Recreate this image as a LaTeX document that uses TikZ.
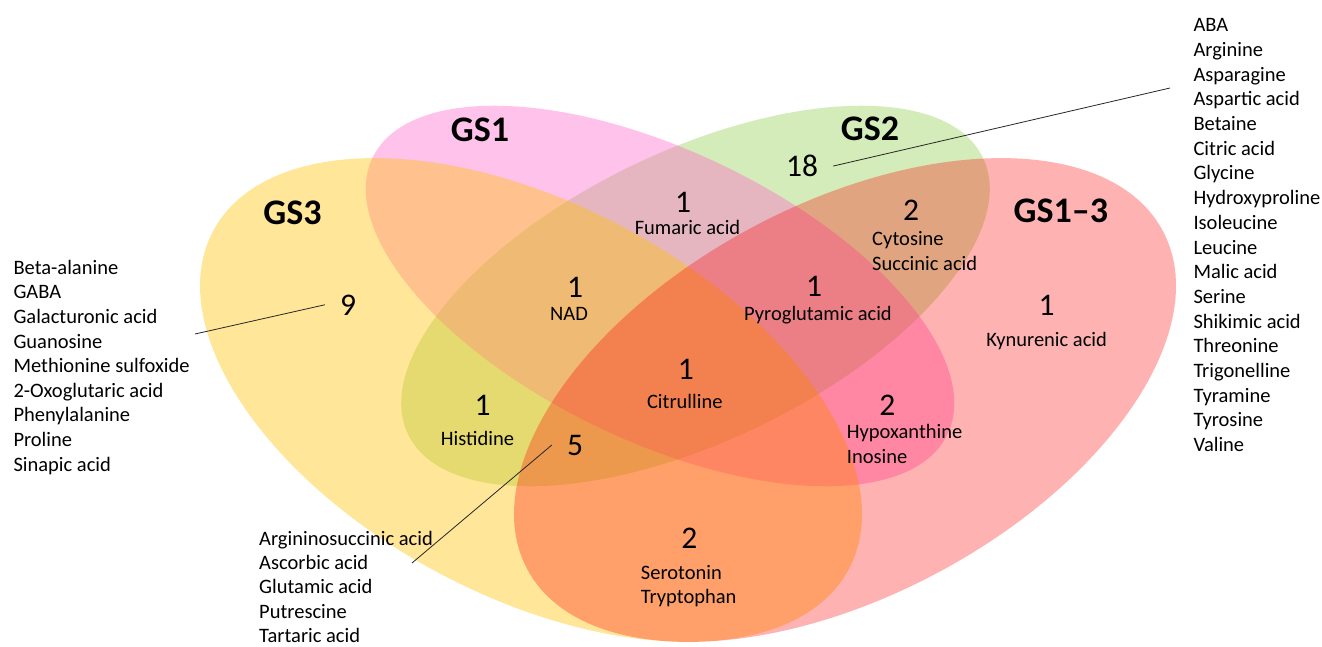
\documentclass[tikz,border=0pt]{standalone}
\usepackage{fontspec}
\setmainfont{Carlito}
\definecolor{cGSone}{RGB}{255,102,204}
\definecolor{cGStwo}{RGB}{146,208,80}
\definecolor{cGSthree}{RGB}{255,192,0}
\definecolor{cGSall}{RGB}{255,0,0}
\begin{document}
\begin{tikzpicture}[x=1pt,y=1pt,
  lst/.style={anchor=base west, inner sep=0pt, font=\fontsize{20.5}{24.7}\selectfont},
  lbl/.style={anchor=base, inner sep=0pt, font=\fontsize{20.5}{24.7}\selectfont},
  lbll/.style={anchor=base west, inner sep=0pt, font=\fontsize{20.5}{24.7}\selectfont},
  num/.style={anchor=base, inner xsep=15pt, inner ysep=0pt, font=\fontsize{31.5}{36}\selectfont},
  settitle/.style={anchor=base, inner sep=0pt, font=\fontsize{36}{40}\selectfont\bfseries},
  lead/.style={draw=black!85, line width=0.8pt}]
\useasboundingbox (0,0) rectangle (1322,-646);

% sets (drawn in this order for the overlap colours)
\fill[cGStwo, fill opacity=0.4, rotate around={25.7:(695.5,-296)}] (695.5,-296) ellipse [x radius=319pt, y radius=145pt];
\fill[cGSone, fill opacity=0.4, rotate around={-25.7:(660,-296)}] (660,-296) ellipse [x radius=319pt, y radius=145pt];
\fill[cGSthree, fill opacity=0.4, rotate around={-28:(531,-400)}] (531,-400) ellipse [x radius=360pt, y radius=196pt];
\fill[cGSall, fill opacity=0.3, rotate around={28:(845,-400)}] (845,-400) ellipse [x radius=360pt, y radius=196pt];

% set titles
\node[settitle] (tGS1) at (480,-141.7) {GS1};
\node[settitle] (tGS2) at (870,-140.7) {GS2};
\node[settitle] (tGS3) at (292.5,-224) {GS3};
\node[settitle] (tGSall) at (1060.8,-222.7) {GS1–3};

% counts
\node[num] (n18) at (802,-176.7) {18};
\node[num] (nFum) at (683,-212.7) {1};
\node[num] (nCyt) at (911,-220.7) {2};
\node[num] (nPyr) at (814,-296.7) {1};
\node[num] (nKyn) at (1046.7,-315) {1};
\node[num] (nNAD) at (575,-297.3) {1};
\node[num] (n9) at (348,-315) {9};
\node[num] (nHis) at (482.7,-415) {1};
\node[num] (nCit) at (685.8,-379) {1};
\node[num] (n5) at (575,-455) {5};
\node[num] (nSer) at (689.3,-548.3) {2};
\node[num] (nHyp) at (887.3,-415) {2};

% region labels
\node[lbl] (lFum) at (687.5,-234.3) {Fumaric acid};
\node[lbl] (lPyr) at (818,-320.7) {Pyroglutamic acid};
\node[lbl] (lKyn) at (1046.7,-346.7) {Kynurenic acid};
\node[lbl] (lNAD) at (569,-320.7) {NAD};
\node[lbl] (lHis) at (477.5,-445.7) {Histidine};
\node[lbl] (lCit) at (684.8,-408.3) {Citrulline};
\node[lbll] (lCyt) at (872,-245) {Cytosine};
\node[lbll] (lSuc) at (872,-270) {Succinic acid};
\node[lbll] (lSer) at (640.7,-579.3) {Serotonin};
\node[lbll] (lTry) at (640.7,-603.8) {Tryptophan};
\node[lbll] (lHyp) at (846.7,-438.3) {Hypoxanthine};
\node[lbll] (lIno) at (846.7,-463.3) {Inosine};

% lists
\foreach \t [count=\i] in {ABA,Arginine,Asparagine,Aspartic acid,Betaine,Citric acid,Glycine,Hydroxyproline,Isoleucine,Leucine,Malic acid,Serine,Shikimic acid,Threonine,Trigonelline,Tyramine,Tyrosine,Valine}
  \node[lst] (R\i) at (1193.3,{-31.7-24.7*(\i-1)}) {\t};
\foreach \t [count=\i] in {Beta-alanine,GABA,Galacturonic acid,Guanosine,Methionine sulfoxide,2-Oxoglutaric acid,Phenylalanine,Proline,Sinapic acid}
  \node[lst] (L\i) at (13.3,{-274.3-24.6*(\i-1)}) {\t};
\foreach \t [count=\i] in {Argininosuccinic acid,Ascorbic acid,Glutamic acid,Putrescine,Tartaric acid}
  \node[lst] (B\i) at (259,{-545-24.4*(\i-1)}) {\t};

% leader lines
\coordinate (c9) at (195,-334);
\coordinate (c18) at (1170,-88);
\coordinate (c5) at (412,-563);
\draw[lead] (c9) -- (n9.west);
\draw[lead] (n18.east) -- (c18);
\draw[lead] (n5.west) -- (c5);
\end{tikzpicture}
\end{document}
